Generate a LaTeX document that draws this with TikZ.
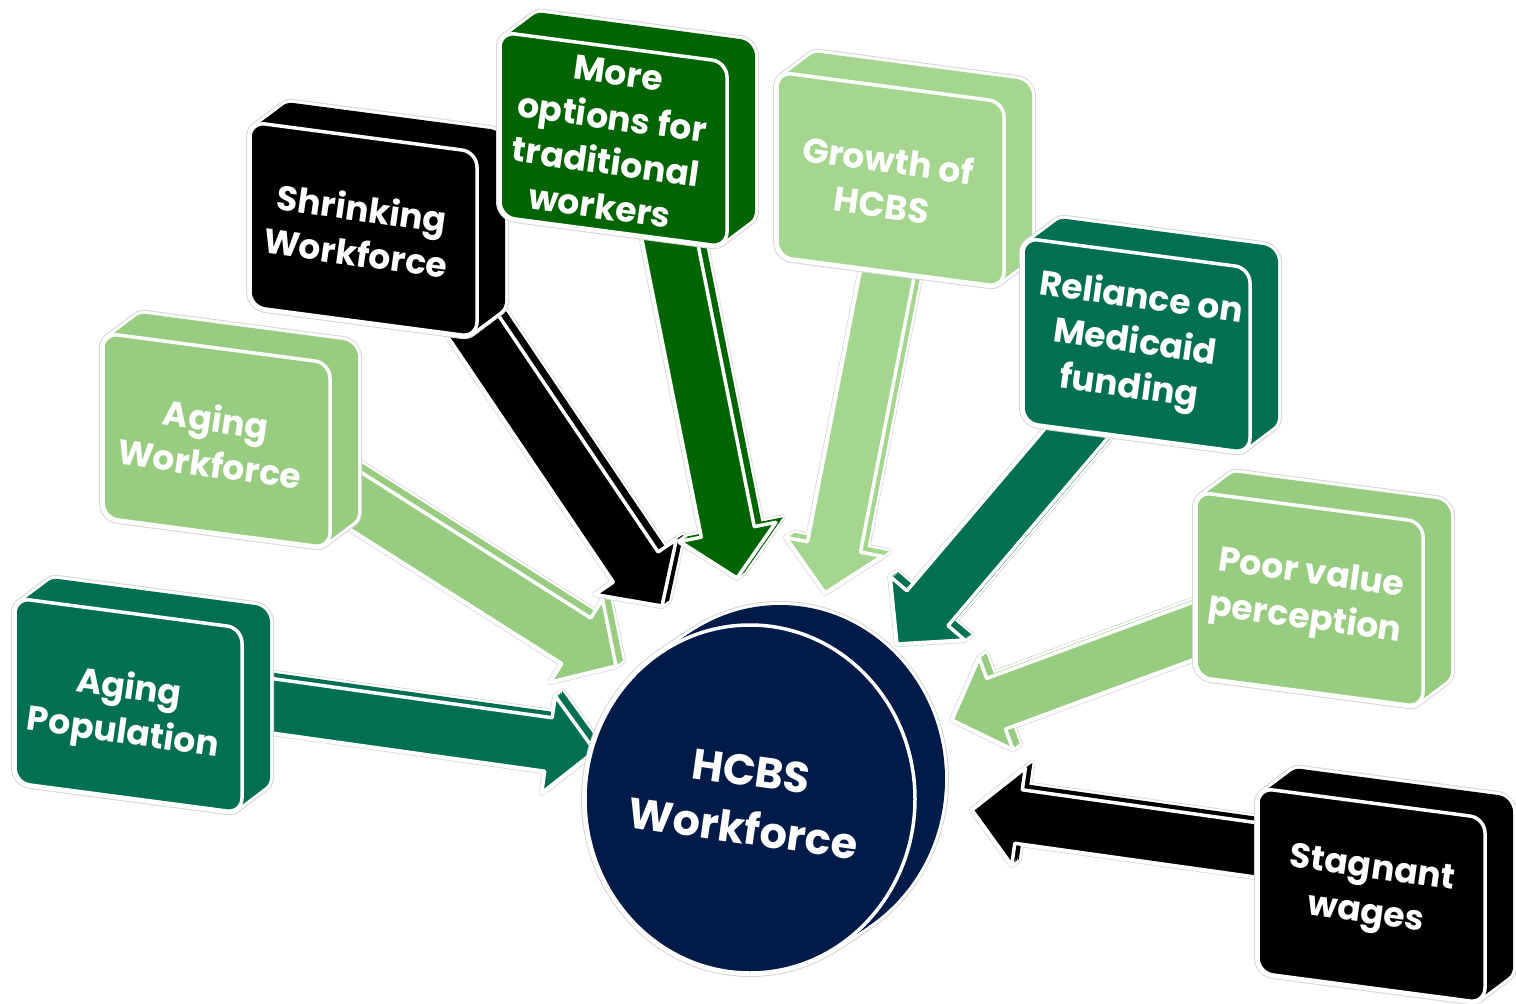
\documentclass[tikz,border=0pt]{standalone}
\usepackage{fontspec}
\setmainfont{Poppins}
\usetikzlibrary{calc}
\definecolor{cTeal}{HTML}{007050}
\definecolor{cLight}{HTML}{98CC80}
\definecolor{cPale}{HTML}{A5D690}
\definecolor{cDark}{HTML}{006400}
\definecolor{cBlack}{HTML}{000000}
\definecolor{cNavy}{HTML}{011B48}
\tikzset{
  lbl/.style={text=white, font=\bfseries\fontsize{34.5}{45}\selectfont, align=center, rotate=-8, inner sep=0pt},
  hubtxt/.style={text=white, font=\bfseries\fontsize{43}{58}\selectfont, align=center, rotate=-8, inner sep=0pt}
}
\def\outw{8pt}\def\inw{6pt}
% #1 colour, #2 path macro, #3 dx, #4 dy, #5 steps, #6 extra options
\newcommand\drawsolid[6]{%
  \foreach \k in {0,...,#5}{\path[#6,draw=black!16,line width=\outw,line join=round,shift={({\k*(#3)/#5},{\k*(#4)/#5})}] #2;}%
  \foreach \k in {0,...,#5}{\path[#6,draw=white,line width=\inw,line join=round,shift={({\k*(#3)/#5},{\k*(#4)/#5})}] #2;}%
  \foreach \k in {0,...,#5}{\path[#6,fill=#1,shift={({\k*(#3)/#5},{\k*(#4)/#5})}] #2;}%
  \path[#6,fill=#1,draw=white,line width=3.5pt,line join=round] #2;%
}
% #1 colour, #2 x0, #3 y0 (top-left of front face)
\newcommand\drawcube[3]{%
  \pgfmathsetmacro\cubeA{#2+227}%
  \pgfmathsetmacro\cubeB{#3+30}%
  \pgfmathsetmacro\cubeC{#3+30+185}%
  \pgfmathsetmacro\cubeD{#3+185}%
  \edef\cubepath{(#2,#3) -- (\cubeA,\cubeB) -- (\cubeA,\cubeC) -- (#2,\cubeD) -- cycle}%
  \drawsolid{#1}{\cubepath}{28}{-21}{10}{rounded corners=15pt}%
}
% #1 colour, #2 tail coordinate name, #3 tip coordinate name
\newcommand\blockarrow[3]{%
  \path (#2); \pgfgetlastxy{\aTx}{\aTy}%
  \path (#3); \pgfgetlastxy{\aPx}{\aPy}%
  \pgfmathsetmacro\tx{\aTx}\pgfmathsetmacro\ty{\aTy}%
  \pgfmathsetmacro\px{\aPx}\pgfmathsetmacro\py{\aPy}%
  \pgfmathsetmacro\aL{veclen((\px)-(\tx),(\py)-(\ty))}%
  \pgfmathsetmacro\aux{((\px)-(\tx))/\aL}%
  \pgfmathsetmacro\auy{((\py)-(\ty))/\aL}%
  \pgfmathsetmacro\anx{0-(\auy)}%
  \pgfmathsetmacro\any{\aux}%
  \pgfmathsetmacro\bx{(\px)-47*(\aux)}%
  \pgfmathsetmacro\by{(\py)-47*(\auy)}%
  \pgfmathsetmacro\qAx{(\tx)+27*(\anx)}\pgfmathsetmacro\qAy{(\ty)+27*(\any)}%
  \pgfmathsetmacro\qBx{(\bx)+27*(\anx)}\pgfmathsetmacro\qBy{(\by)+27*(\any)}%
  \pgfmathsetmacro\qCx{(\bx)+49*(\anx)}\pgfmathsetmacro\qCy{(\by)+49*(\any)}%
  \pgfmathsetmacro\qDx{(\bx)-49*(\anx)}\pgfmathsetmacro\qDy{(\by)-49*(\any)}%
  \pgfmathsetmacro\qEx{(\bx)-27*(\anx)}\pgfmathsetmacro\qEy{(\by)-27*(\any)}%
  \pgfmathsetmacro\qFx{(\tx)-27*(\anx)}\pgfmathsetmacro\qFy{(\ty)-27*(\any)}%
  \edef\arrpath{(\qAx pt,\qAy pt) -- (\qBx pt,\qBy pt) -- (\qCx pt,\qCy pt) -- (\px pt,\py pt) -- (\qDx pt,\qDy pt) -- (\qEx pt,\qEy pt) -- (\qFx pt,\qFy pt) -- cycle}%
  \drawsolid{#1}{\arrpath}{7}{-5}{4}{}%
}
\begin{document}
\begin{tikzpicture}[x=1pt,y=-1pt]
\useasboundingbox (0,0) rectangle (1516,1004);
% arrow end points
\coordinate (apTail) at (152,689);  \coordinate (apTip) at (595,751);
\coordinate (awTail) at (236,425);  \coordinate (awTip) at (616,666);
\coordinate (swTail) at (438,274);  \coordinate (swTip) at (662,606);
\coordinate (moTail) at (649,137);  \coordinate (moTip) at (737,578);
\coordinate (grTail) at (911,152);  \coordinate (grTip) at (825,593);
\coordinate (reTail) at (1155,341); \coordinate (reTip) at (897,644);
\coordinate (pvTail) at (1277,600); \coordinate (pvTip) at (952,720);
\coordinate (sgTail) at (1364,865); \coordinate (sgTip) at (972,810);
% arrows
\def\outw{6pt}\def\inw{4.5pt}
\blockarrow{cTeal}{apTail}{apTip}
\blockarrow{cLight}{awTail}{awTip}
\blockarrow{cBlack}{swTail}{swTip}
\blockarrow{cDark}{moTail}{moTip}
\blockarrow{cPale}{grTail}{grTip}
\blockarrow{cTeal}{reTail}{reTip}
\blockarrow{cLight}{pvTail}{pvTip}
\blockarrow{cBlack}{sgTail}{sgTip}
% hub disk
\def\outw{8pt}\def\inw{6pt}
\def\ellpath{(750,799) ellipse [x radius=165, y radius=174]}
\drawsolid{cNavy}{\ellpath}{30}{-20}{12}{}
\node[hubtxt] (hub) at (747,800) {HCBS\\Workforce};
% boxes
\drawcube{cTeal}{15}{598}
\node[lbl] (agingPop) at (126,712) {Aging\\Population};
\drawcube{cLight}{103}{333}
\node[lbl] (agingWork) at (213,441) {Aging\\Workforce};
\drawcube{cBlack}{250}{122}
\node[lbl] (shrink) at (359,230) {Shrinking\\Workforce};
\drawcube{cDark}{500}{32}
\node[lbl] (options) at (609,140) {More\\options for\\traditional\\workers};
\drawcube{cPale}{777}{72}
\node[lbl] (growth) at (885,182) {Growth of\\HCBS};
\drawcube{cTeal}{1023}{238}
\node[lbl] (medicaid) at (1135,344) {Reliance on\\Medicaid\\funding};
\drawcube{cLight}{1196}{492}
\node[lbl] (value) at (1308,598) {Poor value\\perception};
\drawcube{cBlack}{1258}{788}
\node[lbl] (wages) at (1369,893) {Stagnant\\wages};
\end{tikzpicture}
\end{document}
